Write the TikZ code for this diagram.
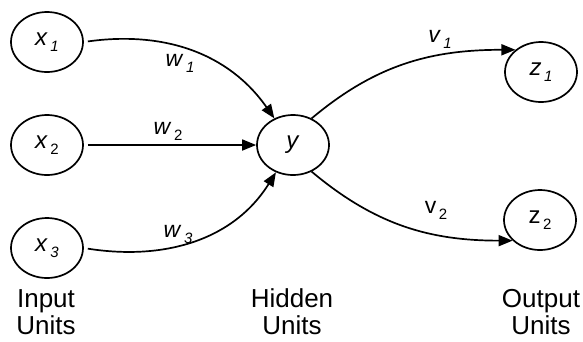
\documentclass[tikz,border=0pt]{standalone}
\usepackage{fontspec}
\setmainfont{Liberation Sans}
\usetikzlibrary{shapes.geometric,arrows.meta}
\newcommand{\unitlbl}[2]{#1\kern2.5pt\raisebox{-6pt}{\fontsize{15}{15}\selectfont #2}}

\begin{document}
\begin{tikzpicture}[x=1pt, y=-1pt,
    unit/.style={draw, ellipse, line width=1.7pt, minimum width=72pt, minimum height=60pt,
                 inner sep=0pt, font=\fontsize{24}{24}\selectfont},
    link/.style={line width=1.7pt, -{Triangle[length=14pt,width=11pt]}},
    wlbl/.style={font=\fontsize{23}{23}\selectfont},
    layer/.style={align=center, font=\fontsize{26}{27}\selectfont}]
    \useasboundingbox (0,0) rectangle (583,341);

    % Units
    \node[unit] (x1) at (47,42)  {\unitlbl{\textit{x}}{\textit{1}}};
    \node[unit] (x2) at (47,145) {\unitlbl{\textit{x}}{2}};
    \node[unit] (x3) at (47,248) {\unitlbl{\textit{x}}{\textit{3}}};
    \node[unit] (h)  at (293,145) {\textit{y}};
    \node[unit] (z1) at (541,72)  {\unitlbl{\textit{z}}{\textit{1}}};
    \node[unit] (z2) at (540,220) {\unitlbl{z}{2}};

    % Input to hidden
    \draw[link, shorten <=4pt] (x1.east) to[out=8, in=125] (h.125);
    \draw[link, shorten <=4pt] (x2.east) -- (h.west);
    \draw[link, shorten <=4pt] (x3.east) to[out=-9, in=-122] (h.-122);

    % Hidden to output
    \draw[link] (h.55) to[out=40, in=180] (z1.139);
    \draw[link] (h.-55) to[out=-40, in=180] (z2.-143);

    % Weights
    \node[wlbl] (w1) at (180,63)  {\unitlbl{\textit{w}}{\textit{1}}};
    \node[wlbl] (w2) at (168,131) {\unitlbl{\textit{w}}{2}};
    \node[wlbl] (w3) at (178,234) {\unitlbl{\textit{w}}{\textit{3}}};
    \node[wlbl] (v1) at (440,39)  {\unitlbl{\textit{v}}{\textit{1}}};
    \node[wlbl] (v2) at (436,210) {\unitlbl{v}{2}};

    % Layer names
    \node[layer] (inp) at (46,312)  {Input\\Units};
    \node[layer] (hid) at (292,312) {Hidden\\Units};
    \node[layer] (out) at (541,312) {Output\\Units};
\end{tikzpicture}
\end{document}
